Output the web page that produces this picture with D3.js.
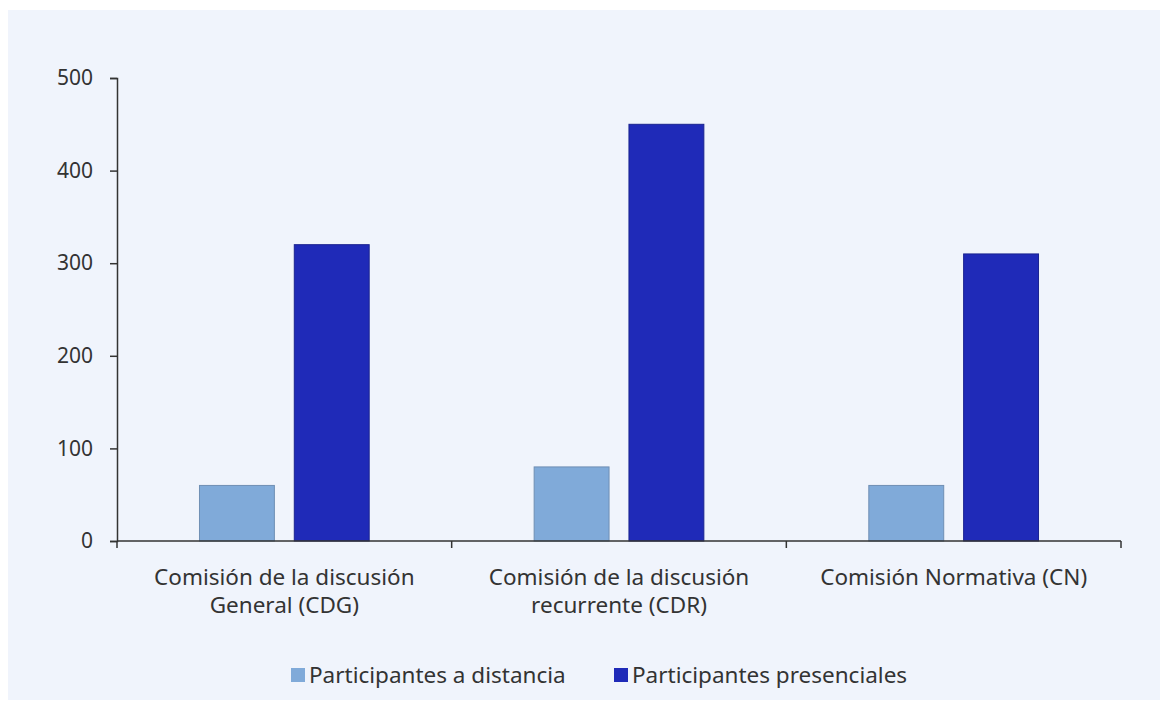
<!DOCTYPE html>
<html>
<head>
<meta charset="utf-8">
<script src="https://d3js.org/d3.v7.min.js"></script>
<style>
  body { margin: 0; background: #ffffff; }
  text { font-family: "Noto Sans", "Open Sans", sans-serif; }
</style>
</head>
<body>
<div id="chart"></div>
<script>
const categories = [
  ['Comisión de la discusión', 'General (CDG)'],
  ['Comisión de la discusión', 'recurrente (CDR)'],
  ['Comisión Normativa (CN)']
];
const seriesNames = ['Participantes a distancia', 'Participantes presenciales'];
const distancia = [60, 80, 60];
const presenciales = [320, 450, 310];
const yTicks = [0, 100, 200, 300, 400, 500];
const colors = ['#80aad9', '#1f2ab8'];
const strokes = ['#6f8fb4', '#1a2390'];

const width = 1168, height = 707;
const margin = { left: 117, right: 47, top: 78, bottom: 166 };
const fontSize = 21;
const labelSize = 22.5;

const svg = d3.select('#chart').append('svg')
  .attr('width', width)
  .attr('height', height);

svg.append('rect')
  .attr('x', 8).attr('y', 10)
  .attr('width', 1152).attr('height', 690)
  .attr('fill', '#f0f4fc');

const x = d3.scaleBand()
  .domain(d3.range(categories.length))
  .range([margin.left, width - margin.right]);

const inner = d3.scaleBand()
  .domain([0, 1])
  .range([0, x.bandwidth()])
  .paddingInner(0.21)
  .paddingOuter(0.87);

const y = d3.scaleLinear()
  .domain([0, 500])
  .range([height - margin.bottom, margin.top]);

const series = [distancia, presenciales];

series.forEach((vals, si) => {
  svg.append('g').selectAll('rect')
    .data(vals)
    .join('rect')
    .attr('x', (d, i) => x(i) + inner(si))
    .attr('y', d => y(d))
    .attr('width', inner.bandwidth())
    .attr('height', d => y(0) - y(d))
    .attr('fill', colors[si])
    .attr('stroke', strokes[si])
    .attr('stroke-width', 1);
});

// y axis
const yAxis = svg.append('g')
  .attr('transform', `translate(${margin.left},0)`)
  .call(d3.axisLeft(y).tickValues(yTicks).tickSize(7).tickPadding(17));
yAxis.select('.domain').attr('stroke', '#333').attr('stroke-width', 1.5);
yAxis.selectAll('.tick line').attr('stroke', '#333').attr('stroke-width', 1.5);
yAxis.selectAll('.tick text')
  .attr('font-size', fontSize).attr('fill', '#333')
  .style('font-family', '"Noto Sans", sans-serif');

// x axis
const xAxis = svg.append('g')
  .attr('transform', `translate(0,${y(0)})`);
xAxis.append('line')
  .attr('x1', margin.left).attr('x2', width - margin.right)
  .attr('stroke', '#333').attr('stroke-width', 1.5);
xAxis.selectAll('line.tk')
  .data(d3.range(categories.length + 1))
  .join('line')
  .attr('class', 'tk')
  .attr('x1', i => i < categories.length ? x(i) : x(i - 1) + x.bandwidth())
  .attr('x2', i => i < categories.length ? x(i) : x(i - 1) + x.bandwidth())
  .attr('y1', 0).attr('y2', 7)
  .attr('stroke', '#333').attr('stroke-width', 1.5);

xAxis.selectAll('text.cat')
  .data(categories)
  .join('text')
  .attr('class', 'cat')
  .attr('x', (d, i) => x(i) + x.bandwidth() / 2)
  .attr('y', 44)
  .attr('text-anchor', 'middle')
  .attr('font-size', labelSize)
  .attr('fill', '#333')
  .selectAll('tspan')
  .data(d => d)
  .join('tspan')
  .attr('x', function () { return d3.select(this.parentNode).attr('x'); })
  .attr('dy', (d, i) => i === 0 ? 0 : 28)
  .text(d => d);

// legend
const legend = svg.append('g').attr('transform', 'translate(0,675)');
const legendX = [291, 614];
seriesNames.forEach((name, i) => {
  legend.append('rect')
    .attr('x', legendX[i]).attr('y', -7)
    .attr('width', 14).attr('height', 14)
    .attr('fill', colors[i]);
  legend.append('text')
    .attr('x', legendX[i] + 18).attr('y', 0)
    .attr('dy', '0.35em')
    .attr('font-size', labelSize)
    .attr('fill', '#333')
    .text(name);
});
</script>
</body>
</html>
